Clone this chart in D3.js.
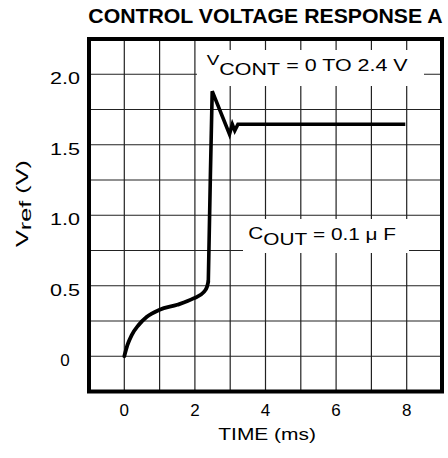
<!DOCTYPE html>
<html><head><meta charset="utf-8">
<script src="https://cdn.jsdelivr.net/npm/d3@7/dist/d3.min.js"></script>
<style>
html,body{margin:0;padding:0;background:#fff;}
svg{display:block;}
text{font-family:Arial,"Liberation Sans",Helvetica,sans-serif;fill:#000;}
</style></head>
<body>
<svg id="chart" width="448" height="458"></svg>
<script>
// ---- data ----
const titleText = "CONTROL VOLTAGE RESPONSE A";
const xTicks = [0, 2, 4, 6, 8];
const yTicks = [0, 0.5, 1.0, 1.5, 2.0];
const yTickLabels = ["0", "0.5", "1.0", "1.5", "2.0"];
const xGrid = [0, 1, 2, 3, 4, 5, 6, 7, 8];
const yGrid = [0, 0.25, 0.5, 0.75, 1.0, 1.25, 1.5, 1.75, 2.0];
// smooth charging part of the response
const timeSmooth = [0, 0.09, 0.21, 0.4, 0.64, 1.0, 1.5, 1.96, 2.25, 2.34, 2.38];
const vrefSmooth = [0, 0.08, 0.15, 0.22, 0.28, 0.33, 0.365, 0.41, 0.455, 0.49, 0.53];
// step and ringing part
const timeStep = [2.38, 2.44, 2.49, 2.98, 3.06, 3.13, 3.22, 7.96];
const vrefStep = [0.53, 1.3, 1.88, 1.575, 1.645, 1.6, 1.645, 1.645];

const svg = d3.select("#chart");
const x = d3.scaleLinear().domain([-1, 9]).range([89, 442]);
const y = d3.scaleLinear().domain([-0.25, 2.25]).range([391.5, 39]);

function fit(sel, left, width) {
  const b = sel.node().getBBox();
  const s = width / b.width;
  const base = sel.attr("data-base") || "";
  sel.attr("transform", `${base} translate(${left},0) scale(${s},1) translate(${-b.x},0)`);
}

// grid
const grid = svg.append("g").attr("stroke", "#222").attr("stroke-width", 1.2);
grid.selectAll("line.v").data(xGrid).join("line").attr("class", "v")
  .attr("x1", d => x(d)).attr("x2", d => x(d)).attr("y1", y(2.25)).attr("y2", y(-0.25));
grid.selectAll("line.h").data(yGrid).join("line").attr("class", "h")
  .attr("y1", d => y(d)).attr("y2", d => y(d)).attr("x1", x(-1)).attr("x2", x(9));

// label boxes
svg.append("rect").attr("x", 197).attr("y", 50).attr("width", 227).attr("height", 36).attr("fill", "#fff");
svg.append("rect").attr("x", 243).attr("y", 219).attr("width", 166).attr("height", 34).attr("fill", "#fff");

// curve
const line = d3.line().x(d => x(d[0])).y(d => y(d[1]));
svg.append("path").datum(timeSmooth.map((t, i) => [t, vrefSmooth[i]]))
  .attr("d", line.curve(d3.curveMonotoneX)).attr("fill", "none").attr("stroke", "#000")
  .attr("stroke-width", 3.8).attr("stroke-linecap", "round");
svg.append("path").datum(timeStep.map((t, i) => [t, vrefStep[i]]))
  .attr("d", d3.line().x(d => x(d[0])).y(d => y(d[1])).curve(d3.curveLinear))
  .attr("fill", "none").attr("stroke", "#000").attr("stroke-width", 3.6)
  .attr("stroke-linejoin", "miter").attr("stroke-linecap", "butt");

// frame
svg.append("rect").attr("x", x(-1)).attr("y", y(2.25))
  .attr("width", x(9) - x(-1)).attr("height", y(-0.25) - y(2.25))
  .attr("fill", "none").attr("stroke", "#000").attr("stroke-width", 4);

// title
const title = svg.append("text").attr("y", 23.3).attr("font-size", 19.5).attr("font-weight", "bold").text(titleText);
fit(title, 88.3, 354.7);

// tick labels
svg.selectAll("text.xt").data(xTicks).join("text").attr("class", "xt")
  .attr("x", d => x(d)).attr("y", 415.7).attr("text-anchor", "middle").attr("font-size", 17).text(d => d);
svg.selectAll("text.yt").data(yTicks).join("text").attr("class", "yt")
  .attr("y", d => y(d) + 10).attr("font-size", 17)
  .text((d, i) => yTickLabels[i])
  .each(function () {
    const t = d3.select(this);
    if (t.text().length > 1) fit(t, 50, 30);
    else t.attr("x", 65).attr("text-anchor", "middle");
  });

// axis titles
const xt = svg.append("text").attr("y", 440).attr("font-size", 17).text("TIME (ms)");
fit(xt, 218.3, 97.7);

const yg = svg.append("g").attr("transform", "translate(28,247) rotate(-90)");
const ytt = yg.append("text").attr("x", 0).attr("y", 0).attr("font-size", 17);
ytt.append("tspan").text("V");
ytt.append("tspan").attr("dy", 3).text("ref");
ytt.append("tspan").attr("dy", -3).text(" (V)");
fit(ytt, 0, 86);

// annotations
const a1 = svg.append("text").attr("y", 71).attr("font-size", 17);
a1.append("tspan").attr("font-size", 15).attr("dy", -5.5).text("V");
a1.append("tspan").attr("dy", 9.2).text("CONT");
a1.append("tspan").attr("dy", -3.7).text(" = 0 TO 2.4 V");
fit(a1, 206.7, 201.5);

const a2 = svg.append("text").attr("y", 240.5).attr("font-size", 17);
a2.append("tspan").attr("dy", -1).text("C");
a2.append("tspan").attr("dy", 5.5).text("OUT");
a2.append("tspan").attr("dy", -4.5).text(" = 0.1 μ F");
fit(a2, 248.3, 147.4);
</script>
</body></html>
